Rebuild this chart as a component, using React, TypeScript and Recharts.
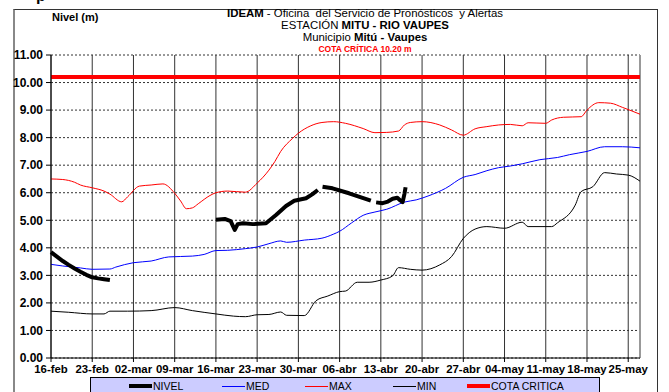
import { LineChart, Line, XAxis, YAxis, CartesianGrid, ReferenceLine } from 'recharts'

// dias contados desde el 16-feb
const tickLabels = ['16-feb', '23-feb', '02-mar', '09-mar', '16-mar', '23-mar', '30-mar', '06-abr', '13-abr', '20-abr', '27-abr', '04-may', '11-may', '18-may', '25-may']
const tickDays = tickLabels.map((_, i) => i * 7)
const yTicks = [0, 1, 2, 3, 4, 5, 6, 7, 8, 9, 10, 11]
const cotaCritica = 10.2

const maxDays = [0, 2, 4, 5, 7, 9, 10, 12, 13, 15, 17, 19, 21, 22, 23, 24, 25, 27, 28, 30, 33, 35, 37, 38, 39, 41, 42, 44, 46, 48, 50, 53, 55, 57, 59, 60, 61, 63, 66, 68, 70, 72, 74, 76, 78, 80, 81, 84, 85, 87, 90, 91, 93, 95, 97, 100]
const maxValues = [6.5, 6.48, 6.38, 6.28, 6.18, 6.06, 5.95, 5.67, 5.85, 6.24, 6.28, 6.32, 5.98, 5.7, 5.42, 5.45, 5.6, 5.9, 6.0, 6.06, 6.02, 6.35, 6.82, 7.13, 7.5, 7.97, 8.16, 8.42, 8.55, 8.58, 8.52, 8.33, 8.18, 8.19, 8.24, 8.46, 8.55, 8.58, 8.46, 8.28, 8.09, 8.32, 8.4, 8.46, 8.48, 8.43, 8.54, 8.52, 8.64, 8.74, 8.76, 9.0, 9.27, 9.25, 9.1, 8.85]

const medDays = [0, 2, 5, 7, 10, 11, 14, 17, 20, 24, 26, 28, 30, 33, 35, 37, 39, 40, 43, 46, 48, 49, 51, 53, 55, 57, 60, 62, 64, 67, 70, 72, 74, 76, 78, 80, 83, 86, 88, 91, 94, 97, 100]
const medValues = [3.4, 3.34, 3.27, 3.22, 3.23, 3.3, 3.46, 3.52, 3.67, 3.7, 3.76, 3.9, 3.91, 3.97, 4.03, 4.15, 4.25, 4.2, 4.28, 4.35, 4.5, 4.6, 4.9, 5.18, 5.3, 5.4, 5.66, 5.74, 5.88, 6.16, 6.56, 6.66, 6.8, 6.91, 6.97, 7.05, 7.2, 7.28, 7.38, 7.5, 7.67, 7.67, 7.63]

const minDays = [0, 3, 7, 9, 10, 13, 17, 21, 24, 28, 31, 33, 35, 37, 39, 40, 43, 45, 47, 49, 50, 52, 54, 56, 58, 59, 61, 63, 66, 68, 70, 72, 74, 77, 80, 81, 85, 86, 89, 90, 92, 94, 96, 98, 100]
const minValues = [1.7, 1.66, 1.6, 1.6, 1.7, 1.7, 1.72, 1.83, 1.72, 1.6, 1.52, 1.5, 1.57, 1.58, 1.67, 1.55, 1.54, 2.08, 2.25, 2.41, 2.43, 2.75, 2.75, 2.83, 2.98, 3.28, 3.22, 3.19, 3.38, 3.68, 4.34, 4.68, 4.77, 4.71, 4.93, 4.77, 4.77, 4.91, 5.55, 6.04, 6.22, 6.73, 6.68, 6.64, 6.42]

// lecturas del nivel, con huecos donde no hay dato
const nivelDays = [0, 1, 2, 3, 4, 5, 6, 7, 8, 9, 10, 19, 28, 29.5, 30.5, 31.2, 31.7, 32.6, 34.3, 36.5, 38.2, 39.9, 41.3, 43.3, 44.4, 45.3, 45.7, 46.1, 47.8, 50.6, 54.3, 54.7, 55.2, 56.3, 57.2, 58, 58.8, 59.3, 59.7, 60, 60.2]
const nivelValues = [3.84, 3.68, 3.52, 3.38, 3.25, 3.13, 3.02, 2.93, 2.89, 2.86, 2.83, null, 5.02, 5.05, 4.97, 4.65, 4.86, 4.89, 4.86, 4.89, 5.19, 5.52, 5.71, 5.8, 5.95, 6.1, null, 6.22, 6.16, 5.98, 5.71, null, 5.65, 5.62, 5.68, 5.78, 5.82, 5.72, 5.66, 5.95, 6.2]

const toSeries = (days: number[], values: (number | null)[]) => days.map((d, i) => ({ d, v: values[i] }))

const maxData = toSeries(maxDays, maxValues)
const medData = toSeries(medDays, medValues)
const minData = toSeries(minDays, minValues)
const nivelData = toSeries(nivelDays, nivelValues)

const FONT = '"Liberation Sans", Arial, sans-serif'
const xTickStyle = { fill: '#000', fontSize: 11.4, fontWeight: 'bold', fontFamily: FONT }
const yTickStyle = { fill: '#000', fontSize: 12, fontWeight: 'bold', fontFamily: FONT }

const legendItems = [
  { name: 'NIVEL', color: '#000', width: 4, left: 38 },
  { name: 'MED', color: '#0000ff', width: 1, left: 131 },
  { name: 'MAX', color: '#ff0000', width: 1, left: 214 },
  { name: 'MIN', color: '#000', width: 1, left: 302 },
  { name: 'COTA CRITICA', color: '#ff0000', width: 4, left: 376 },
]

function Leyenda() {
  return (
    <div style={{ position: 'absolute', left: 90, top: 377, width: 508, height: 16, background: '#ccccff', border: '1px solid #000', fontSize: 10.5, fontFamily: FONT }}>
      {legendItems.map((it) => (
        <div key={it.name} style={{ position: 'absolute', left: it.left, top: 0, height: 16, display: 'flex', alignItems: 'center' }}>
          <div style={{ width: 23, height: it.width, background: it.color }} />
          <span style={{ marginLeft: 1 }}>{it.name}</span>
        </div>
      ))}
    </div>
  )
}

export default function App() {
  return (
    <div style={{ position: 'absolute', left: 0, top: 0, width: 669, height: 392, background: '#fff', overflow: 'hidden', fontFamily: FONT }}>
      <div style={{ position: 'absolute', left: 36, top: -13, fontSize: 16, fontWeight: 'bold' }}>p</div>
      <div style={{ position: 'absolute', left: 13, top: 9, width: 642, height: 400, border: '1px solid #333', borderLeft: '2px solid #888' }} />
      <div style={{ position: 'absolute', left: 52, top: 11, fontSize: 11, fontWeight: 'bold' }}>Nivel (m)</div>
      <div style={{ position: 'absolute', left: 165, top: 7, width: 400, textAlign: 'center', fontSize: 11.4, lineHeight: '12px' }}>
        <div><b>IDEAM</b> - Oficina&nbsp; del Servicio de Pronósticos&nbsp; y Alertas</div>
        <div>ESTACIÓN <b>MITU - RIO VAUPES</b></div>
        <div>Municipio <b>Mitú - Vaupes</b></div>
        <div style={{ color: '#ff0000', fontWeight: 'bold', fontSize: 8.5 }}>COTA CRÍTICA 10.20 m</div>
      </div>
      <LineChart width={669} height={392} margin={{ top: 55, right: 29, bottom: 14, left: 11 }} style={{ position: 'absolute', left: 0, top: 0 }}>
        <CartesianGrid horizontal={false} stroke="#333" />
        <CartesianGrid vertical={false} stroke="#333" strokeDasharray="2 2" />
        <XAxis
          type="number"
          dataKey="d"
          domain={[0, 100]}
          ticks={tickDays}
          interval={0}
          tickFormatter={(d: number) => tickLabels[Math.round(d / 7)]}
          stroke="#000"
          tickSize={4}
          tickMargin={2.5}
          height={20}
          tick={xTickStyle}
        />
        <YAxis
          domain={[0, 11]}
          ticks={yTicks}
          interval={0}
          tickFormatter={(v: number) => v.toFixed(2)}
          stroke="#000"
          tickSize={5}
          tickMargin={3}
          width={40}
          tick={yTickStyle}
        />
        <ReferenceLine x={100} stroke="#999" strokeWidth={2} />
        <ReferenceLine y={cotaCritica} stroke="#ff0000" strokeWidth={4} />
        <Line data={minData} dataKey="v" type="monotone" stroke="#000" strokeWidth={1} dot={false} isAnimationActive={false} />
        <Line data={medData} dataKey="v" type="monotone" stroke="#0000ff" strokeWidth={1} dot={false} isAnimationActive={false} />
        <Line data={maxData} dataKey="v" type="monotone" stroke="#ff0000" strokeWidth={1} dot={false} isAnimationActive={false} />
        <Line data={nivelData} dataKey="v" type="linear" stroke="#000" strokeWidth={4} strokeLinejoin="round" dot={false} isAnimationActive={false} />
      </LineChart>
      <Leyenda />
    </div>
  )
}
